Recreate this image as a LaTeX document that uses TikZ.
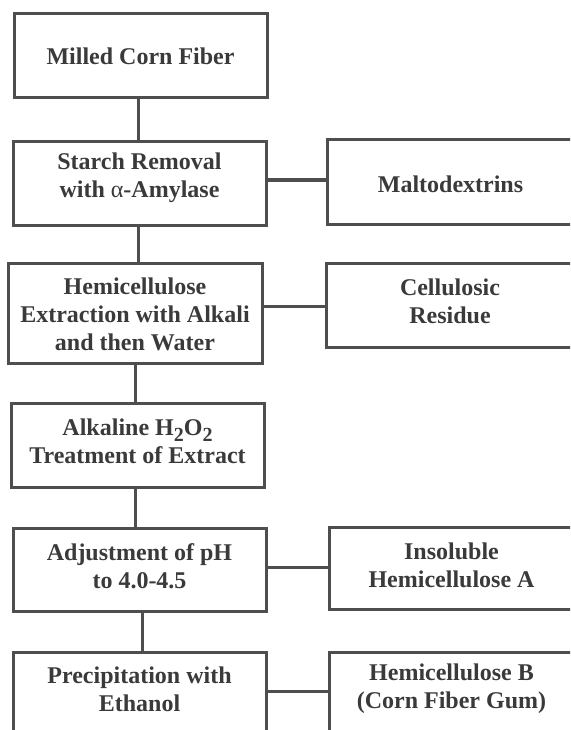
\documentclass[tikz,border=0pt]{standalone}
\usepackage{fontspec}
\setmainfont{Liberation Serif}
\usetikzlibrary{calc}
\definecolor{ink}{HTML}{3A3A3A}
\definecolor{edge}{HTML}{4E4E4E}
\newcommand{\subtwo}{\raisebox{-6pt}[0pt][0pt]{\fontsize{20}{20}\selectfont 2}}
\begin{document}
\begin{tikzpicture}[x=1pt,y=-1pt,
  box/.style={draw=edge, line width=3pt, minimum width=253pt, minimum height=84pt, inner sep=0pt},
  txt/.style={text=ink, font=\fontsize{24}{28}\selectfont\bfseries, align=center, inner sep=0pt},
  link/.style={draw=edge, line width=3pt}]
\useasboundingbox (0,0) rectangle (570,730);
\clip (0,0) rectangle (570,730);
% left column boxes
\node[box] (b1) at (140.5,56) {};
\node[box, minimum height=83pt] (b2) at (139.5,183.5) {};
\node[box, minimum width=254pt, minimum height=100pt] (b3) at (135,313) {};
\node[box] (b4) at (137.5,445) {};
\node[box, minimum height=83pt] (b5) at (139.5,569.5) {};
\node[box, minimum height=85pt] (b6) at (139.5,694.5) {};
% right column boxes
\node[box, minimum width=247pt] (m) at (450.5,182) {};
\node[box, minimum width=248pt] (c) at (450,305) {};
\node[box, minimum width=245pt, minimum height=82pt] (i) at (451.5,568) {};
\node[box, minimum width=245pt, minimum height=85pt] (h) at (451.5,694.5) {};
% texts
\node[txt] (b1t) at (b1.center) {Milled Corn Fiber};
\node[txt] (b2t) at ([yshift=5.5pt]b2.center) {Starch Removal\\with {\mdseries α}-Amylase};
\node[txt] (b3t) at ([yshift=-1pt]b3.center) {Hemicellulose\\Extraction with Alkali\\and then Water};
\node[txt] (b4t) at ([yshift=4pt]b4.center) {Alkaline H\subtwo O\subtwo\\Treatment of Extract};
\node[txt] (b5t) at ([yshift=3.5pt]b5.center) {Adjustment of pH\\to 4.0-4.5};
\node[txt] (b6t) at ([yshift=5.5pt]b6.center) {Precipitation with\\Ethanol};
\node[txt] (mt) at ([yshift=-2pt]m.center) {Maltodextrins};
\node[txt] (ct) at ([yshift=4pt]c.center) {Cellulosic\\Residue};
\node[txt] (it) at ([yshift=3pt]i.center) {Insoluble\\Hemicellulose A};
\node[txt] (ht) at ([yshift=5.5pt]h.center) {Hemicellulose B\\(Corn Fiber Gum)};
% vertical connectors
\draw[link] ([xshift=-2.5pt]b1.south) -- ([xshift=-2.5pt]b1.south |- b2.north);
\draw[link] ([xshift=-1.5pt]b2.south) -- ([xshift=-1.5pt]b2.south |- b3.north);
\draw[link] (b3.south) -- (b3.south |- b4.north);
\draw[link] ([xshift=-2.5pt]b4.south) -- ([xshift=-2.5pt]b4.south |- b5.north);
\draw[link] ([xshift=2.5pt]b5.south) -- ([xshift=2.5pt]b5.south |- b6.north);
% horizontal connectors
\draw[link] ([yshift=2pt]b2.east |- m.west) -- ([yshift=2pt]m.west);
\draw[link] ([yshift=-1pt]c.west -| b3.east) -- ([yshift=-1pt]c.west);
\draw[link] ([yshift=1pt]i.west -| b5.east) -- ([yshift=1pt]i.west);
\draw[link] ([yshift=3.5pt]h.west -| b6.east) -- ([yshift=3.5pt]h.west);
\end{tikzpicture}
\end{document}
